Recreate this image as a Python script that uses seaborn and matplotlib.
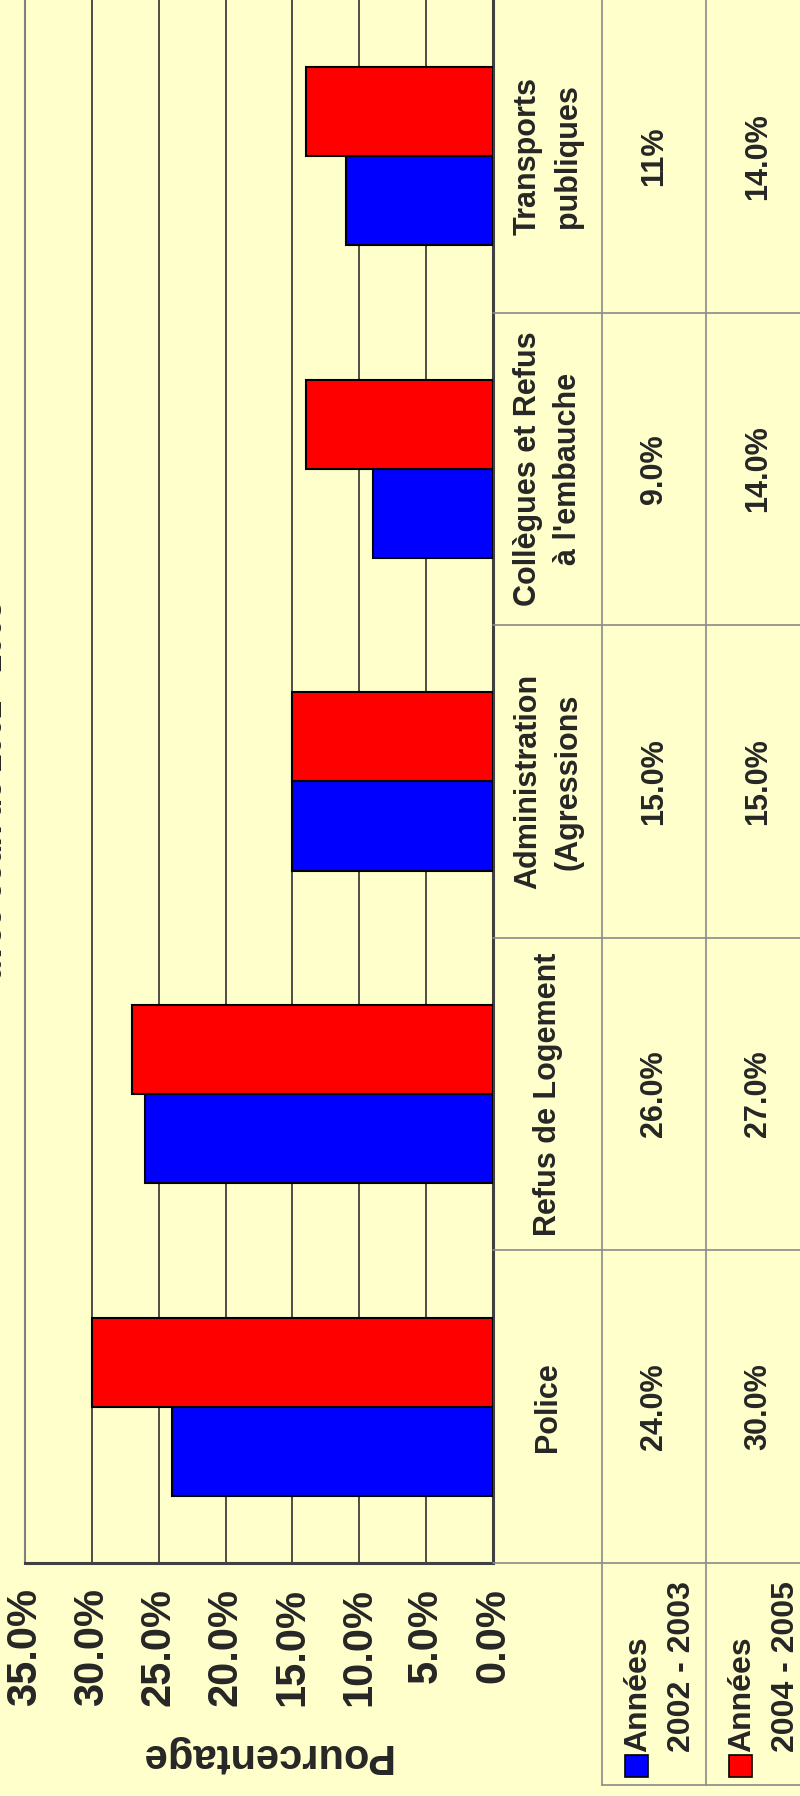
import seaborn as sns
import matplotlib.pyplot as plt
import matplotlib.transforms as mtransforms
from matplotlib.lines import Line2D
from matplotlib.patches import Rectangle
import pandas as pd

# Data
categories = ['Police', 'Refus de Logement', 'Administration\n(Agressions',
              'Collègues et Refus\nà l\'embauche', 'Transports\npubliques']
periods = ['Années\n2002 - 2003', 'Années\n2004 - 2005']
values_2002 = [24.0, 26.0, 15.0, 9.0, 11.0]
values_2004 = [30.0, 27.0, 15.0, 14.0, 14.0]
labels_2002 = ['24.0%', '26.0%', '15.0%', '9.0%', '11%']
labels_2004 = ['30.0%', '27.0%', '15.0%', '14.0%', '14.0%']
colors = ['#0000FF', '#FF0000']
ticks = [0, 5, 10, 15, 20, 25, 30, 35]

df = pd.DataFrame({
    'categorie': categories * 2,
    'periode': [periods[0]] * 5 + [periods[1]] * 5,
    'valeur': values_2002 + values_2004,
})

BG = '#FFFFCC'
FONT = ['Liberation Sans', 'DejaVu Sans']

sns.set_style('white')
plt.rcParams['font.family'] = FONT

W, H = 800, 1796
fig = plt.figure(figsize=(W / 100, H / 100), dpi=100, facecolor=BG)


def fx(px):
    return px / W


def fy(py):
    return 1 - py / H


ax_left, ax_right, ax_bottom = 25, 493, 1563
ax = fig.add_axes([fx(ax_left), fy(ax_bottom), fx(ax_right - ax_left), 1 - fy(ax_bottom)])
ax.set_facecolor(BG)

sns.barplot(data=df, x='valeur', y='categorie', hue='periode', orient='h',
            order=categories, hue_order=periods, palette=colors, saturation=1,
            width=0.57, gap=0, edgecolor='black', linewidth=1.5,
            legend=False, ax=ax, zorder=3)

ax.set_ylim(-0.5, 4.5)
ax.set_xlim(35, 0)
ax.set_xticks(ticks)
ax.set_xticklabels([f'{t:.1f}%' for t in ticks], rotation=90,
                   fontsize=30, fontweight='bold')
ax.set_yticks([])
ax.set_xlabel('')
ax.set_ylabel('')
ax.tick_params(axis='x', direction='out', length=10, width=1.5, color='#404040', pad=8)
ax.grid(axis='x', color='#303030', linewidth=1.2, zorder=0)
ax.spines['top'].set_visible(False)
ax.spines['left'].set_color('#808080')
ax.spines['left'].set_linewidth(1.5)
ax.spines['bottom'].set_color('#404040')
ax.spines['bottom'].set_linewidth(2.2)
ax.spines['right'].set_color('#404040')
ax.spines['right'].set_linewidth(2.2)

# data table (drawn to the right of the plot)
blend = mtransforms.blended_transform_factory(fig.transFigure, ax.transData)
line_col = '#8a8a8a'
for b in [0.5, 1.5, 2.5, 3.5]:
    fig.add_artist(Line2D([fx(ax_right), 1], [b, b], transform=blend, color=line_col, lw=1.2))
fig.add_artist(Line2D([fx(ax_right), 1], [fy(ax_bottom), fy(ax_bottom)], color=line_col, lw=1.2))
for xc in [602, 706]:
    fig.add_artist(Line2D([fx(xc), fx(xc)], [1, fy(1785)], color=line_col, lw=1.2))
fig.add_artist(Line2D([fx(602), 1], [fy(1785), fy(1785)], color=line_col, lw=1.2))

for i, cat in enumerate(categories):
    fig.text(fx(548), i, cat, transform=blend, rotation=90, ha='center', va='center',
             multialignment='center', fontsize=22, fontweight='bold', linespacing=1.45)
    fig.text(fx(654), i, labels_2002[i], transform=blend, rotation=90, ha='center',
             va='center', fontsize=22, fontweight='bold')
    fig.text(fx(758), i, labels_2004[i], transform=blend, rotation=90, ha='center',
             va='center', fontsize=22, fontweight='bold')

# legend keys in the row headers
for j, (cell_x, col) in enumerate(zip([602, 706], colors)):
    x0 = cell_x + 23
    fig.add_artist(Rectangle((fx(x0), fy(1777)), fx(23), 22 / H, transform=fig.transFigure,
                             facecolor=col, edgecolor='black', lw=1.2))
    fig.text(fx(x0 - 2), fy(1752), periods[j], rotation=90, ha='left', va='bottom',
             multialignment='left', fontsize=23, fontweight='bold', linespacing=1.6)

# axis title and (clipped) chart title
fig.text(fx(265), fy(1755), 'Pourcentage', rotation=180, ha='center', va='center',
         fontsize=30, fontweight='bold')
fig.text(fx(9), fy(790), 'avec ceux de 2002 - 2003', rotation=90, ha='right',
         va='center', fontsize=23, fontweight='bold')

fig.savefig('out.png', dpi=100, facecolor=BG)
